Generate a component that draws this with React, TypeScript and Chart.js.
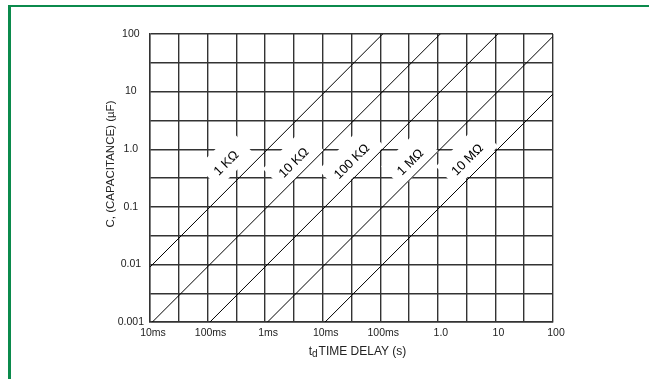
import React, { useEffect, useRef } from "react";
import { Chart, registerables } from "chart.js";

Chart.register(...registerables);

const FONT = '"Liberation Sans", Arial, Helvetica, sans-serif';

// Axis tick labels (decades) as printed on the reference
const xTickLabels = ["10ms", "100ms", "1ms", "10ms", "100ms", "1.0", "10", "100"];
const yTickLabels = ["0.001", "0.01", "0.1", "1.0", "10", "100"];

// Grid line values (decades and half-decades)
const xGridValues = [
  1e-5, 3.16e-5, 1e-4, 3.16e-4, 1e-3, 3.16e-3, 1e-2, 3.16e-2,
  1e-1, 3.16e-1, 1, 3.16, 10, 31.6, 100,
];
const yGridValues = [
  0.001, 0.00316, 0.01, 0.0316, 0.1, 0.316, 1, 3.16, 10, 31.6, 100,
];

// Resistance lines: end points (time s, capacitance µF)
const seriesNames = ["1 KΩ", "10 KΩ", "100 KΩ", "1 MΩ", "10 MΩ"];
const seriesTime = [
  [1e-5, 0.11],
  [1.1e-5, 1.1],
  [1.1e-4, 11],
  [1.1e-3, 100],
  [1.1e-2, 100],
];
const seriesCap = [
  [0.009, 100],
  [0.001, 100],
  [0.001, 100],
  [0.001, 91],
  [0.001, 9.1],
];

// Label anchor positions (time s, capacitance µF)
const labelTime = [2.13e-4, 3.17e-3, 0.0323, 0.336, 3.3];
const labelCap = [0.565, 0.575, 0.607, 0.588, 0.649];

const yTitle = "C, (CAPACITANCE) (µF)";
const xTitleMain = "TIME DELAY (s)";

const GRID = "#333";

const annotPlugin = {
  id: "annot",
  beforeDatasetsDraw(chart: any) {
    const { ctx, scales } = chart;
    const xs = scales.x;
    const ys = scales.y;
    ctx.save();
    ctx.font = `13px ${FONT}`;
    seriesNames.forEach((name, i) => {
      const px = xs.getPixelForValue(labelTime[i]);
      const py = ys.getPixelForValue(labelCap[i]);
      const w = ctx.measureText(name).width;
      ctx.save();
      ctx.translate(px, py);
      ctx.rotate(-Math.PI / 4);
      ctx.fillStyle = "#fff";
      ctx.fillRect(-w / 2 - 8, -18, w + 20, 30);
      ctx.fillStyle = "#000";
      ctx.textAlign = "center";
      ctx.textBaseline = "middle";
      ctx.fillText(name, 0, 0);
      ctx.restore();
    });
    ctx.restore();
  },
  afterDraw(chart: any) {
    const { ctx, chartArea: a } = chart;
    // Y title
    ctx.save();
    ctx.fillStyle = "#222";
    ctx.font = `11.5px ${FONT}`;
    ctx.translate(a.left - 39, (a.top + a.bottom) / 2 - 14);
    ctx.rotate(-Math.PI / 2);
    ctx.textAlign = "center";
    ctx.textBaseline = "middle";
    ctx.fillText(yTitle, 0, 0);
    ctx.restore();
    // X title with subscript d
    ctx.save();
    ctx.fillStyle = "#222";
    ctx.textBaseline = "alphabetic";
    ctx.textAlign = "left";
    const big = `12px ${FONT}`;
    const small = `10px ${FONT}`;
    ctx.font = big;
    const wt = ctx.measureText("t").width;
    const wm = ctx.measureText(xTitleMain).width;
    ctx.font = small;
    const wd = ctx.measureText("d").width;
    const total = wt + wd + 1 + wm;
    const cx = (a.left + a.right) / 2 + 6;
    const base = a.bottom + 33;
    let x0 = cx - total / 2;
    ctx.font = big;
    ctx.fillText("t", x0, base);
    x0 += wt;
    ctx.font = small;
    ctx.fillText("d", x0, base + 1.5);
    x0 += wd + 1;
    ctx.font = big;
    ctx.fillText(xTitleMain, x0, base);
    ctx.restore();
  },
};

export default function App() {
  const ref = useRef<HTMLCanvasElement | null>(null);

  useEffect(() => {
    if (!ref.current) return;
    const chart = new Chart(ref.current, {
      type: "line",
      data: {
        datasets: seriesNames.map((n, i) => ({
          label: n,
          data: seriesTime[i].map((t, j) => ({ x: t, y: seriesCap[i][j] })),
          borderColor: "#000",
          borderWidth: 1,
          pointRadius: 0,
          fill: false,
          tension: 0,
        })),
      },
      options: {
        animation: false,
        responsive: false,
        events: [],
        layout: { padding: { left: 0, top: 34, right: 96, bottom: 0 } },
        plugins: {
          legend: { display: false },
          tooltip: { enabled: false },
        },
        scales: {
          x: {
            type: "logarithmic",
            min: 1e-5,
            max: 100,
            afterBuildTicks: (s: any) => {
              s.ticks = xGridValues.map((v) => ({ value: v }));
            },
            afterFit: (s: any) => {
              s.height = 57;
            },
            ticks: {
              autoSkip: false,
              maxRotation: 0,
              minRotation: 0,
              padding: 5,
              labelOffset: 3,
              color: "#222",
              font: { family: FONT, size: 10.5 },
              callback: (_v: any, i: number) =>
                i % 2 === 0 ? xTickLabels[i / 2] : "",
            },
            grid: { color: GRID, lineWidth: 1.4, drawTicks: false },
            border: { color: GRID, width: 1.4 },
          },
          y: {
            type: "logarithmic",
            min: 0.001,
            max: 100,
            afterBuildTicks: (s: any) => {
              s.ticks = yGridValues.map((v) => ({ value: v }));
            },
            afterFit: (s: any) => {
              s.width = 150;
            },
            ticks: {
              autoSkip: false,
              padding: 6,
              crossAlign: "center",
              color: "#222",
              font: { family: FONT, size: 10.5 },
              callback: (_v: any, i: number) =>
                i % 2 === 0 ? yTickLabels[i / 2] : "",
            },
            grid: { color: GRID, lineWidth: 1.4, drawTicks: false },
            border: { color: GRID, width: 1.4 },
          },
        },
      },
      plugins: [annotPlugin],
    } as any);
    return () => chart.destroy();
  }, []);

  return (
    <div
      style={{
        position: "fixed",
        left: 0,
        top: 0,
        width: 649,
        height: 379,
        background: "#fff",
        overflow: "hidden",
      }}
    >
      <canvas
        ref={ref}
        width={649}
        height={379}
        style={{ position: "absolute", left: 0, top: 0, width: 649, height: 379 }}
      />
      <div
        style={{
          position: "absolute",
          left: 8,
          top: 5,
          width: 641,
          height: 2,
          background: "#0b8a4c",
        }}
      />
      <div
        style={{
          position: "absolute",
          left: 8,
          top: 5,
          width: 3,
          height: 374,
          background: "#0b8a4c",
        }}
      />
    </div>
  );
}
